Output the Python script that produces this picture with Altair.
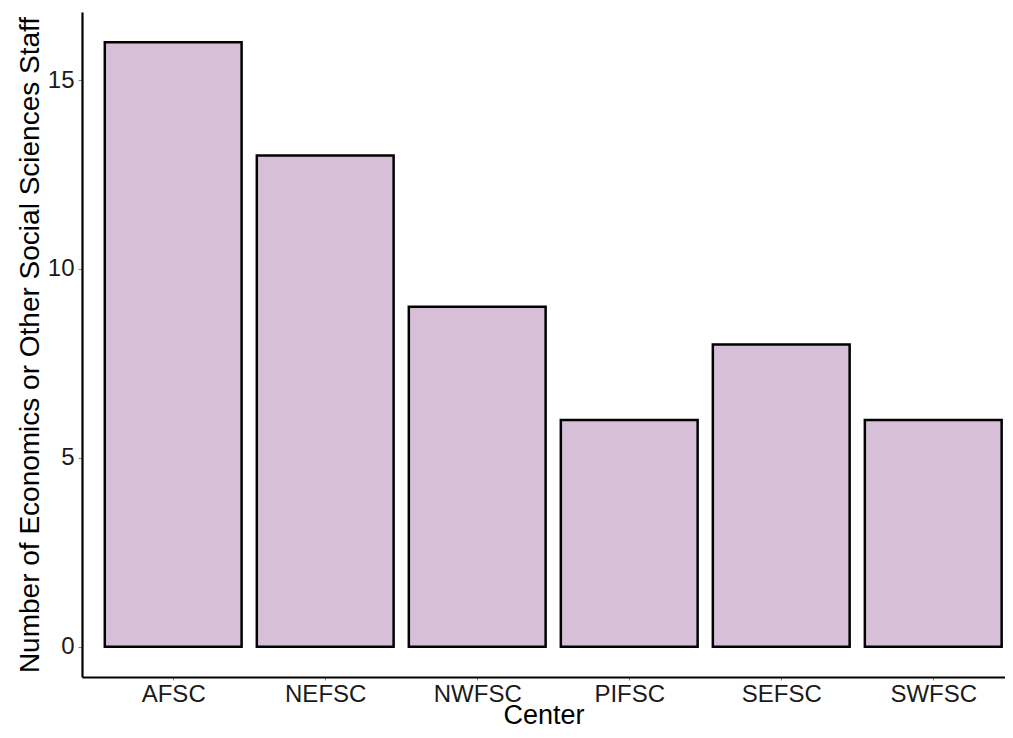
import altair as alt
import pandas as pd

centers = ["AFSC", "NEFSC", "NWFSC", "PIFSC", "SEFSC", "SWFSC"]
staff = [16, 13, 9, 6, 8, 6]

df = pd.DataFrame({"Center": centers, "Staff": staff, "idx": list(range(len(centers)))})

FONT = "Liberation Sans"
label_expr = "[" + ",".join("'%s'" % c for c in centers) + "][datum.value]"

chart = alt.Chart(df).transform_calculate(
    x0="datum.idx - 0.45", x1="datum.idx + 0.45"
).mark_bar(
    fill="#D8BFD8", stroke="black", strokeWidth=2.5, clip=True
).encode(
    x=alt.X("x0:Q",
            scale=alt.Scale(domain=[-0.6, 5.472], nice=False, zero=False),
            axis=alt.Axis(title="Center", values=list(range(len(centers))),
                          labelExpr=label_expr, labelFontSize=24,
                          labelColor="#1a1a1a", labelFont=FONT,
                          titleFont=FONT, titleFontSize=27, titleFontWeight="normal",
                          titleColor="black", titlePadding=-4,
                          domainColor="black", domainWidth=2.2,
                          tickColor="#888888", tickSize=3, tickWidth=1,
                          labelPadding=2, grid=False, labelFlush=False)),
    x2="x1:Q",
    y=alt.Y("Staff:Q",
            scale=alt.Scale(domain=[-0.8, 16.8], nice=False, zero=False),
            axis=alt.Axis(title="Number of Economics or Other Social Sciences Staff",
                          values=[0, 5, 10, 15], labelFontSize=24,
                          labelColor="#1a1a1a", labelFont=FONT,
                          titleFont=FONT, titleFontSize=28, titleFontWeight="normal",
                          titleColor="black", titlePadding=3,
                          domainColor="black", domainWidth=2.2,
                          tickColor="#888888", tickSize=4, tickWidth=1,
                          labelPadding=4, grid=False, labelFlush=False)),
    y2=alt.datum(0),
).properties(
    width=923, height=665,
    autosize=alt.AutoSizeParams(type="none"),
    padding={"left": 74, "top": 4, "right": 0, "bottom": 56},
).configure_view(stroke=None)

chart.save("out.html", embed_options={"renderer": "svg", "actions": False})
